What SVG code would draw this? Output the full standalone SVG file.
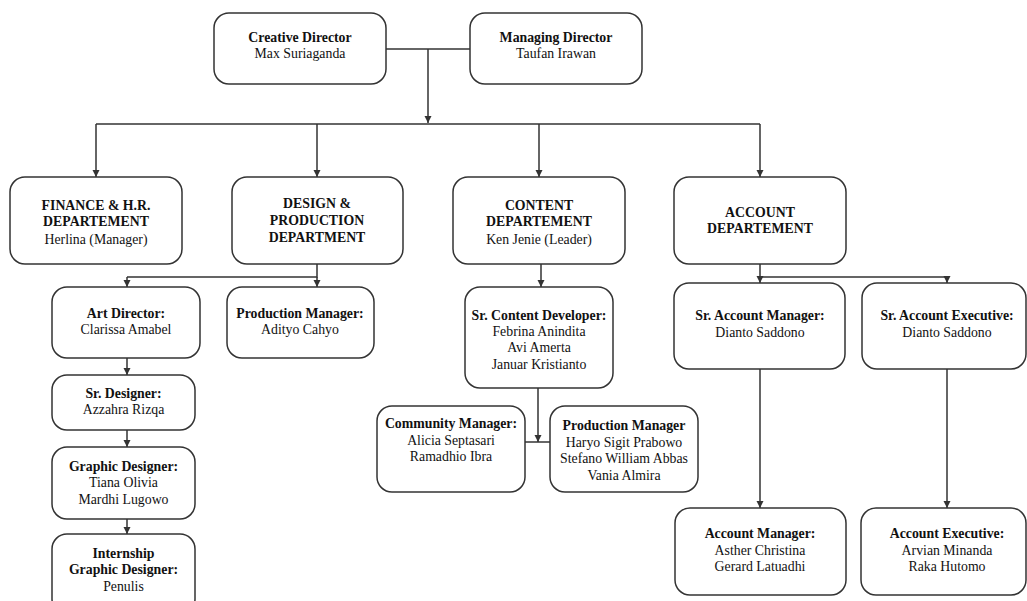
<svg xmlns="http://www.w3.org/2000/svg" width="1027" height="601" viewBox="0 0 1027 601">
<style>
  .box { fill: #ffffff; stroke: #333333; stroke-width: 1.5; }
  text { font-family: 'Liberation Serif', 'Times New Roman', Times, 'DejaVu Serif', serif; font-size: 13.8px; fill: #111111; text-anchor: middle; }
  .b { font-weight: bold; }
  .c { fill: none; stroke: #333333; stroke-width: 1.5; }
</style>
<defs>
  <marker id="arr" markerUnits="userSpaceOnUse" markerWidth="8" markerHeight="8" refX="7" refY="4" orient="auto">
    <path d="M0,0.5 L7,4 L0,7.5 z" fill="#333333"/>
  </marker>
</defs>
<rect width="1027" height="601" fill="#ffffff"/>

<g id="connectors">
  <path class="c" d="M386,49 H470"/>
  <path class="c" d="M428,49 V123" marker-end="url(#arr)"/>
  <path class="c" d="M96,124 H760"/>
  <path class="c" d="M96,124 V177" marker-end="url(#arr)"/>
  <path class="c" d="M317,124 V177" marker-end="url(#arr)"/>
  <path class="c" d="M539,124 V177" marker-end="url(#arr)"/>
  <path class="c" d="M760,124 V177" marker-end="url(#arr)"/>
  <path class="c" d="M317,264 V277 H127"/>
  <path class="c" d="M127,277 V287" marker-end="url(#arr)"/>
  <path class="c" d="M317,277 V287" marker-end="url(#arr)"/>
  <path class="c" d="M127,358 V375" marker-end="url(#arr)"/>
  <path class="c" d="M127,430 V447" marker-end="url(#arr)"/>
  <path class="c" d="M127,519 V534" marker-end="url(#arr)"/>
  <path class="c" d="M541,264 V287" marker-end="url(#arr)"/>
  <path class="c" d="M538,388 V442" marker-end="url(#arr)"/>
  <path class="c" d="M525,442 H550"/>
  <path class="c" d="M760,264 V277 H947"/>
  <path class="c" d="M760,277 V283" marker-end="url(#arr)"/>
  <path class="c" d="M947,277 V283" marker-end="url(#arr)"/>
  <path class="c" d="M760,369 V508" marker-end="url(#arr)"/>
  <path class="c" d="M947,369 V508" marker-end="url(#arr)"/>
</g>

<g id="creative-director">
  <rect class="box" x="214" y="13" width="172" height="71" rx="15"/>
  <text class="b" x="300" y="41.5">Creative Director</text>
  <text x="300" y="58">Max Suriaganda</text>
</g>
<g id="managing-director">
  <rect class="box" x="470" y="13" width="172" height="71" rx="15"/>
  <text class="b" x="556" y="41.5">Managing Director</text>
  <text x="556" y="58">Taufan Irawan</text>
</g>

<g id="finance">
  <rect class="box" x="10" y="177" width="172" height="87" rx="15"/>
  <text class="b" x="96" y="209.5">FINANCE &amp; H.R.</text>
  <text class="b" x="96" y="226">DEPARTEMENT</text>
  <text x="96" y="244">Herlina (Manager)</text>
</g>
<g id="design">
  <rect class="box" x="232" y="177" width="171" height="87" rx="15"/>
  <text class="b" x="317" y="207.5">DESIGN &amp;</text>
  <text class="b" x="317" y="224.5">PRODUCTION</text>
  <text class="b" x="317" y="241.5">DEPARTMENT</text>
</g>
<g id="content">
  <rect class="box" x="453" y="177" width="172" height="87" rx="15"/>
  <text class="b" x="539" y="209.5">CONTENT</text>
  <text class="b" x="539" y="226">DEPARTEMENT</text>
  <text x="539" y="244">Ken Jenie (Leader)</text>
</g>
<g id="account">
  <rect class="box" x="674" y="177" width="172" height="87" rx="15"/>
  <text class="b" x="760" y="216.5">ACCOUNT</text>
  <text class="b" x="760" y="232.5">DEPARTEMENT</text>
</g>

<g id="art-director">
  <rect class="box" x="52" y="287" width="148" height="71" rx="15"/>
  <text class="b" x="126" y="317.5">Art Director:</text>
  <text x="126" y="334">Clarissa Amabel</text>
</g>
<g id="production-manager-design">
  <rect class="box" x="227" y="287" width="147" height="71" rx="15"/>
  <text class="b" x="300" y="317.5">Production Manager:</text>
  <text x="300" y="334">Adityo Cahyo</text>
</g>
<g id="sr-designer">
  <rect class="box" x="52" y="375" width="143" height="55" rx="15"/>
  <text class="b" x="123.5" y="397.5">Sr. Designer:</text>
  <text x="123.5" y="414">Azzahra Rizqa</text>
</g>
<g id="graphic-designer">
  <rect class="box" x="52" y="447" width="143" height="72" rx="15"/>
  <text class="b" x="123.5" y="470.5">Graphic Designer:</text>
  <text x="123.5" y="487">Tiana Olivia</text>
  <text x="123.5" y="503.5">Mardhi Lugowo</text>
</g>
<g id="internship">
  <rect class="box" x="52" y="534" width="143" height="80" rx="15"/>
  <text class="b" x="123.5" y="557.5">Internship</text>
  <text class="b" x="123.5" y="574">Graphic Designer:</text>
  <text x="123.5" y="590.5">Penulis</text>
</g>

<g id="sr-content-developer">
  <rect class="box" x="465" y="287" width="148" height="101" rx="15"/>
  <text class="b" x="539" y="319.5">Sr. Content Developer:</text>
  <text x="539" y="335.5">Febrina Anindita</text>
  <text x="539" y="352">Avi Amerta</text>
  <text x="539" y="368.5">Januar Kristianto</text>
</g>
<g id="community-manager">
  <rect class="box" x="377" y="406" width="148" height="86" rx="15"/>
  <text class="b" x="451" y="427.5">Community Manager:</text>
  <text x="451" y="444.5">Alicia Septasari</text>
  <text x="451" y="461">Ramadhio Ibra</text>
</g>
<g id="production-manager-content">
  <rect class="box" x="550" y="406" width="148" height="86" rx="15"/>
  <text class="b" x="624" y="429.5">Production Manager</text>
  <text x="624" y="446.5">Haryo Sigit Prabowo</text>
  <text x="624" y="463">Stefano William Abbas</text>
  <text x="624" y="479.5">Vania Almira</text>
</g>

<g id="sr-account-manager">
  <rect class="box" x="674" y="283" width="171" height="86" rx="15"/>
  <text class="b" x="760" y="319.5">Sr. Account Manager:</text>
  <text x="760" y="336.5">Dianto Saddono</text>
</g>
<g id="sr-account-executive">
  <rect class="box" x="862" y="283" width="164" height="86" rx="15"/>
  <text class="b" x="947" y="319.5">Sr. Account Executive:</text>
  <text x="947" y="336.5">Dianto Saddono</text>
</g>
<g id="account-manager">
  <rect class="box" x="675" y="508" width="171" height="87" rx="15"/>
  <text class="b" x="760" y="537.5">Account Manager:</text>
  <text x="760" y="554.5">Asther Christina</text>
  <text x="760" y="571">Gerard Latuadhi</text>
</g>
<g id="account-executive">
  <rect class="box" x="861" y="508" width="165" height="87" rx="15"/>
  <text class="b" x="947" y="537.5">Account Executive:</text>
  <text x="947" y="554.5">Arvian Minanda</text>
  <text x="947" y="571">Raka Hutomo</text>
</g>
</svg>
